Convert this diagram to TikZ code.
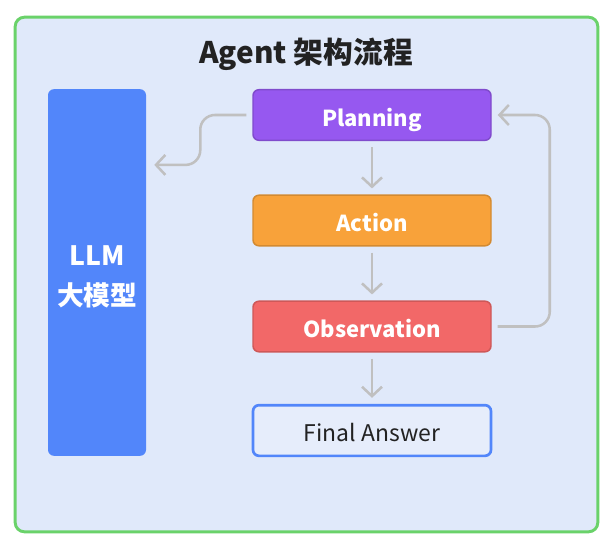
\documentclass[tikz,border=0pt]{standalone}
\usepackage{fontspec}
\setmainfont{Noto Sans CJK SC}
\usetikzlibrary{arrows.meta}

\definecolor{sfondo}{RGB}{224,233,250}
\definecolor{verde}{RGB}{106,210,106}
\definecolor{blu}{RGB}{82,134,250}
\definecolor{viola}{RGB}{150,88,240}
\definecolor{arancio}{RGB}{248,162,58}
\definecolor{rosso}{RGB}{242,104,104}
\definecolor{grigio}{RGB}{192,192,192}
\definecolor{testo}{RGB}{34,34,34}

\begin{document}
\begin{tikzpicture}[x=0.75pt,y=-0.75pt]
\tikzstyle{blocco} = [draw=#1!85!black, fill=#1, line width=1.1pt, rounded corners=4.5pt, minimum width=178.5pt, minimum height=38pt, inner sep=0, text height=17pt, text depth=0pt, text=white, font=\fontsize{16.5}{20}\selectfont\bfseries]
\tikzstyle{freccia} = [draw=grigio, line width=1.9pt, -{Straight Barb[length=7pt,width=15pt]}, shorten <=4.5pt, shorten >=4.5pt]

% Cornice
\useasboundingbox (0,0) rectangle (609,552);
\node[draw=verde, fill=sfondo, line width=2.2pt, rounded corners=7pt, minimum width=437pt, minimum height=386pt, inner sep=0] (cornice) at (306.5,274.5) {};
\node[text=testo, text height=20pt, text depth=0pt, font=\fontsize{22.3}{26}\selectfont\bfseries] (titolo) at (306,50) {Agent 架构流程};

% Modello
\node[fill=blu, rounded corners=4.5pt, minimum width=73.5pt, minimum height=275pt, inner sep=0, align=center, text=white, font=\fontsize{20}{30}\selectfont\bfseries] (llm) at (97,272.5) {\rule{0pt}{22pt}LLM\\大模型};

% Blocchi del ciclo
\foreach \nome/\testo/\col/\y in {plan/Planning/viola/115, act/Action/arancio/220.5, obs/Observation/rosso/326.5} {
  \node[blocco=\col] (\nome) at (372,\y) {\testo};
}
\node[draw=blu, fill=sfondo!80!white, line width=2pt, rounded corners=4.5pt, minimum width=178.5pt, minimum height=38pt, inner sep=0, text height=16.5pt, text depth=0pt, text=testo, font=\fontsize{17.2}{20}\selectfont] (final) at (372,430.5) {Final Answer};

% Frecce verso il basso
\foreach \a/\b in {plan/act, act/obs, obs/final} {
  \draw[freccia] (\a.south) -- (\b.north);
}

% Verso il modello
\path (llm.north east) ++(0,76) coordinate (llmin);
\draw[freccia, rounded corners=11pt, shorten >=6pt] (plan.west) -- ++(-52,0) |- (llmin);

% Ritorno a Planning
\draw[freccia, rounded corners=11pt] (obs.east) -- ++(58,0) |- (plan.east);

\end{tikzpicture}
\end{document}
